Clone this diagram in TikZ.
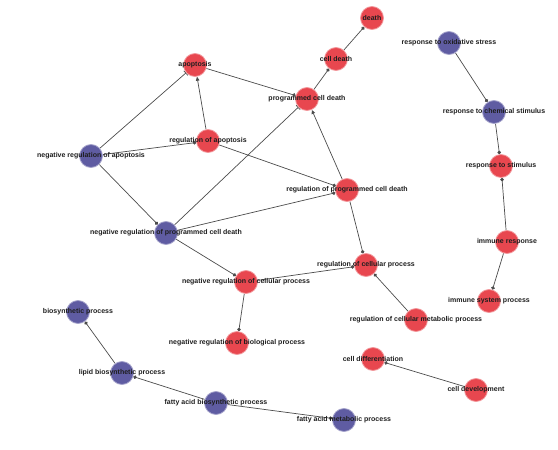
\documentclass[tikz,border=0pt]{standalone}
\usepackage{fontspec}
\setmainfont{Liberation Sans}
\usetikzlibrary{arrows.meta,backgrounds}
\definecolor{gored}{HTML}{E8474F}
\definecolor{goblue}{HTML}{5F5CA2}
\definecolor{goink}{HTML}{1E1E1E}
\tikzset{
  up/.style={circle, fill=gored, draw=gored!55!white, line width=0.8pt, minimum size=23pt, inner sep=0pt},
  dn/.style={circle, fill=goblue, draw=goblue!55!white, line width=0.8pt, minimum size=23pt, inner sep=0pt},
  lbl/.style={font=\fontsize{7}{8}\selectfont\bfseries, text=goink, inner sep=0pt},
  act/.style={-{Circle[length=3.5pt]}, line width=0.7pt, color=goink!80},
  inh/.style={-{Bar[width=6pt]}, line width=0.7pt, color=goink!80},
  ind/.style={-{Triangle[length=4pt,width=3.5pt]}, line width=0.7pt, color=goink!80},
}
\begin{document}
\begin{tikzpicture}[x=1pt, y=1pt]
    \useasboundingbox (0,0) rectangle (558,-450);
    % death branch
    \node[up, label={[lbl]center:death}] (death) at (372,-18) {};
    \node[up, label={[lbl]center:cell death}] (cd) at (336,-59) {};
    \node[up, label={[lbl]center:programmed cell death}] (pcd) at (307,-99) {};
    \node[up, label={[lbl]center:apoptosis}] (apop) at (195,-65) {};
    \node[up, label={[lbl]center:regulation of apoptosis}] (rapop) at (208,-141) {};
    \node[dn, label={[lbl]center:negative regulation of apoptosis}] (nrapop) at (91,-156) {};
    \node[up, label={[lbl]center:regulation of programmed cell death}] (rpcd) at (347,-190) {};
    \node[dn, label={[lbl]center:negative regulation of programmed cell death}] (nrpcd) at (166,-233) {};
    \node[up, label={[lbl]center:regulation of cellular process}] (rcp) at (366,-265) {};
    \node[up, label={[lbl]center:negative regulation of cellular process}] (nrcp) at (246,-282) {};
    \node[up, label={[lbl]center:negative regulation of biological process}] (nrbp) at (237,-343) {};
    \node[up, label={[lbl]center:regulation of cellular metabolic process}] (rcmp) at (416,-320) {};
    % stimulus branch
    \node[dn, label={[lbl]center:response to oxidative stress}] (ros) at (449,-43) {};
    \node[dn, label={[lbl]center:response to chemical stimulus}] (rcs) at (494,-112) {};
    \node[up, label={[lbl]center:response to stimulus}] (rs) at (501,-166) {};
    \node[up, label={[lbl]center:immune response}] (ir) at (507,-242) {};
    \node[up, label={[lbl]center:immune system process}] (isp) at (489,-301) {};
    % lipids
    \node[dn, label={[lbl]center:biosynthetic process}] (bp) at (78,-312) {};
    \node[dn, label={[lbl]center:lipid biosynthetic process}] (lbp) at (122,-373) {};
    \node[dn, label={[lbl]center:fatty acid biosynthetic process}] (fabp) at (216,-403) {};
    \node[dn, label={[lbl]center:fatty acid metabolic process}] (famp) at (344,-420) {};
    % development
    \node[up, label={[lbl]center:cell differentiation}] (cdiff) at (373,-359) {};
    \node[up, label={[lbl]center:cell development}] (cdev) at (476,-390) {};
    \begin{scope}[on background layer]
      \draw[act] (cd) -- (death);
      \draw[act] (pcd) -- (cd);
      \draw[act] (apop) -- (pcd);
      \draw[inh] (nrpcd) -- (pcd);
      \draw[ind] (rpcd) -- (pcd);
      \draw[ind] (rapop) -- (apop);
      \draw[inh] (nrapop) -- (apop);
      \draw[act] (nrapop) -- (rapop);
      \draw[act] (rapop) -- (rpcd);
      \draw[act] (nrapop) -- (nrpcd);
      \draw[act] (nrpcd) -- (rpcd);
      \draw[act] (nrpcd) -- (nrcp);
      \draw[act] (rpcd) -- (rcp);
      \draw[act] (nrcp) -- (rcp);
      \draw[act] (rcmp) -- (rcp);
      \draw[act] (nrcp) -- (nrbp);
      \draw[act] (ros) -- (rcs);
      \draw[act] (rcs) -- (rs);
      \draw[act] (ir) -- (rs);
      \draw[act] (ir) -- (isp);
      \draw[act] (lbp) -- (bp);
      \draw[act] (fabp) -- (lbp);
      \draw[act] (fabp) -- (famp);
      \draw[act] (cdev) -- (cdiff);
    \end{scope}
\end{tikzpicture}
\end{document}
